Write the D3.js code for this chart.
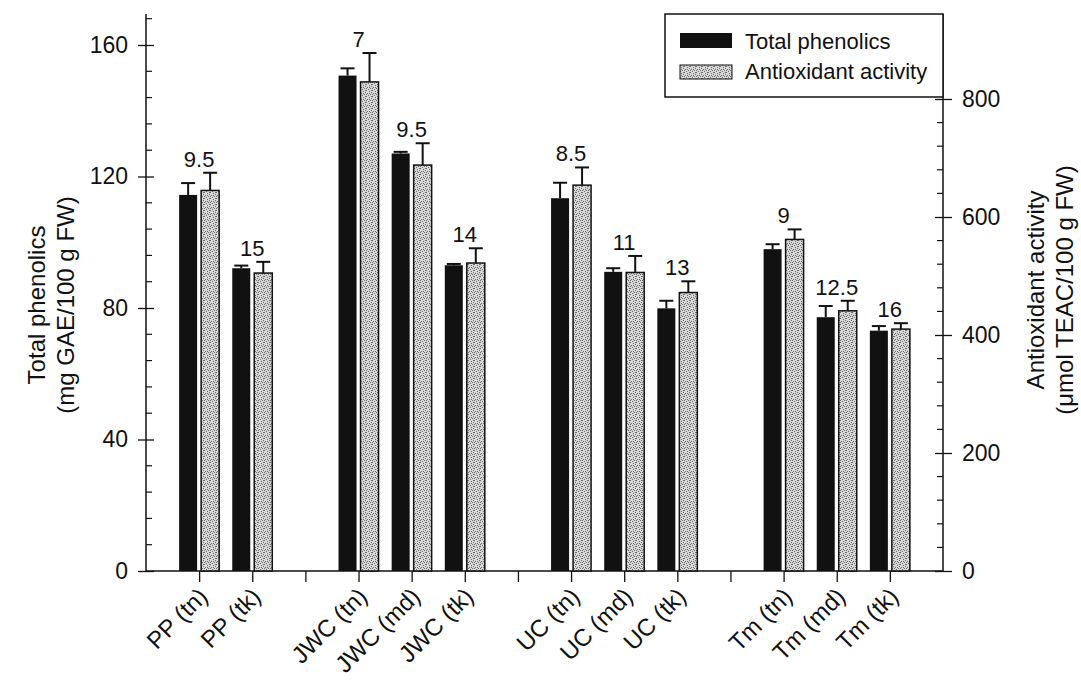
<!DOCTYPE html>
<html>
<head>
<meta charset="utf-8">
<script src="https://cdn.jsdelivr.net/npm/d3@7"></script>
<style>
  body { margin: 0; background: #fff; }
  svg text { font-family: "Liberation Sans", Arial, Helvetica, sans-serif; fill: #111; }
</style>
</head>
<body>
<div id="chart"></div>
<script>
/*
 * Total phenolics vs antioxidant activity, grouped bars with two y axes
 */

// categories and the group each one belongs to (groups are split by an empty slot)
var categories = ["PP (tn)", "PP (tk)", "JWC (tn)", "JWC (md)", "JWC (tk)",
                  "UC (tn)", "UC (md)", "UC (tk)", "Tm (tn)", "Tm (md)", "Tm (tk)"];
var groups = ["PP", "PP", "JWC", "JWC", "JWC", "UC", "UC", "UC", "Tm", "Tm", "Tm"];

// mg GAE/100 g FW
var phenolics    = [114.4, 92.1, 150.7, 127.0, 93.0, 113.4, 91.0, 79.9, 97.9, 77.2, 73.1];
var phenolicsErr = [3.6, 0.8, 2.2, 0.5, 0.4, 4.7, 1.1, 2.3, 1.5, 3.4, 1.4];

// umol TEAC/100 g FW
var antioxidant    = [645, 505, 829, 688, 522, 654, 506, 472, 562, 441, 410];
var antioxidantErr = [30, 19, 49, 37, 25, 30, 28, 19, 17, 17, 10];

// numbers printed above each pair
var ratios = ["9.5", "15", "7", "9.5", "14", "8.5", "11", "13", "9", "12.5", "16"];

var leftTicks = [0, 40, 80, 120, 160];
var rightTicks = [0, 200, 400, 600, 800];

var width = 1081, height = 681;
var plot = { left: 146, right: 943, top: 14, bottom: 571 };

var svg = d3.select("#chart").append("svg")
  .attr("width", width).attr("height", height);

// stipple texture for the antioxidant bars
var pat = svg.append("defs").append("pattern")
  .attr("id", "stipple").attr("patternUnits", "userSpaceOnUse")
  .attr("width", 6).attr("height", 6);
pat.append("rect").attr("width", 6).attr("height", 6).attr("fill", "#d8d8d8");
[[0,0],[3,1],[1,3],[4,4],[2,5],[5,2],[0,4],[3,3],[5,0]].forEach(function(p){
  pat.append("rect").attr("x", p[0]).attr("y", p[1]).attr("width", 1).attr("height", 1).attr("fill", "#6a6a6a");
});

// x slots: padding, categories with one empty slot between groups, padding
var slots = ["_start"];
categories.forEach(function(c, i){
  if (i > 0 && groups[i] != groups[i-1]) slots.push("_gap" + i);
  slots.push(c);
});
slots.push("_end");

var x = d3.scalePoint().domain(slots).range([plot.left, plot.right]);
var yL = d3.scaleLinear().domain([0, 160]).range([plot.bottom, 45]);
var yR = d3.scaleLinear().domain([0, 800]).range([plot.bottom, 99]);

var ink = "#111";

// axis lines
svg.append("line").attr("x1", plot.left).attr("x2", plot.left)
  .attr("y1", plot.top).attr("y2", plot.bottom).attr("stroke", ink).attr("stroke-width", 1.5);
svg.append("line").attr("x1", plot.right).attr("x2", plot.right)
  .attr("y1", plot.top).attr("y2", plot.bottom).attr("stroke", ink).attr("stroke-width", 1.5);
svg.append("line").attr("x1", plot.left).attr("x2", plot.right)
  .attr("y1", plot.bottom).attr("y2", plot.bottom).attr("stroke", ink).attr("stroke-width", 1.5);

// left axis
var gL = svg.append("g").attr("transform", "translate(" + plot.left + ",0)")
  .call(d3.axisLeft(yL).tickValues(leftTicks).tickSize(8).tickPadding(10));
gL.select(".domain").remove();
gL.selectAll(".tick line").attr("x1", 8).attr("stroke", ink).attr("stroke-width", 1.3);
gL.selectAll(".tick text").style("font-size", "23px").attr("fill", ink);

d3.range(0, 170, 8).filter(function(v){ return v % 40 != 0; }).forEach(function(v){
  svg.append("line").attr("x1", plot.left).attr("x2", plot.left + 6)
    .attr("y1", yL(v)).attr("y2", yL(v)).attr("stroke", ink).attr("stroke-width", 1.2);
});

// right axis
var gR = svg.append("g").attr("transform", "translate(" + plot.right + ",0)")
  .call(d3.axisRight(yR).tickValues(rightTicks).tickSize(9).tickPadding(10));
gR.select(".domain").remove();
gR.selectAll(".tick line").attr("x1", -8).attr("stroke", ink).attr("stroke-width", 1.3);
gR.selectAll(".tick text").style("font-size", "23px").attr("fill", ink);

d3.range(0, 940, 40).filter(function(v){ return v % 200 != 0; }).forEach(function(v){
  svg.append("line").attr("x1", plot.right - 6).attr("x2", plot.right)
    .attr("y1", yR(v)).attr("y2", yR(v)).attr("stroke", ink).attr("stroke-width", 1.2);
});

// bottom ticks at every slot, labels only for categories
var gX = svg.append("g").attr("transform", "translate(0," + plot.bottom + ")")
  .call(d3.axisBottom(x).tickValues(slots.slice(1, -1)).tickSize(11).tickFormat(""));
gX.select(".domain").remove();
gX.selectAll(".tick line").attr("stroke", ink).attr("stroke-width", 1.3);

svg.selectAll(".xlab").data(categories).enter().append("text")
  .attr("class", "xlab")
  .attr("text-anchor", "end")
  .attr("transform", function(d){ return "translate(" + (x(d) + 10) + ",598) rotate(-45)"; })
  .style("font-size", "24px")
  .text(function(d){ return d; });

// bars
var barW = 18, gap = 2, capW = 14;

categories.forEach(function(c, i){
  var cx = x(c);

  // total phenolics, black
  var bx = cx - gap - barW;
  svg.append("rect").attr("x", bx).attr("y", yL(phenolics[i]))
    .attr("width", barW).attr("height", plot.bottom - yL(phenolics[i]))
    .attr("fill", ink);
  var capL = yL(phenolics[i] + phenolicsErr[i]);
  svg.append("line").attr("x1", bx + barW/2).attr("x2", bx + barW/2)
    .attr("y1", yL(phenolics[i])).attr("y2", capL).attr("stroke", ink).attr("stroke-width", 2);
  svg.append("line").attr("x1", bx + barW/2 - capW/2).attr("x2", bx + barW/2 + capW/2)
    .attr("y1", capL).attr("y2", capL).attr("stroke", ink).attr("stroke-width", 2);

  // antioxidant activity, stippled
  var sx = cx + gap;
  svg.append("rect").attr("x", sx).attr("y", yR(antioxidant[i]))
    .attr("width", barW).attr("height", plot.bottom - yR(antioxidant[i]))
    .attr("fill", "url(#stipple)").attr("stroke", ink).attr("stroke-width", 1.5);
  var capR = yR(antioxidant[i] + antioxidantErr[i]);
  svg.append("line").attr("x1", sx + barW/2).attr("x2", sx + barW/2)
    .attr("y1", yR(antioxidant[i])).attr("y2", capR).attr("stroke", ink).attr("stroke-width", 2);
  svg.append("line").attr("x1", sx + barW/2 - capW/2).attr("x2", sx + barW/2 + capW/2)
    .attr("y1", capR).attr("y2", capR).attr("stroke", ink).attr("stroke-width", 2);

  // ratio label above the pair
  svg.append("text").attr("x", cx).attr("y", Math.min(capL, capR) - 6)
    .attr("text-anchor", "middle").style("font-size", "22px")
    .text(ratios[i]);
});

// legend
var lg = svg.append("g");
lg.append("rect").attr("x", 665).attr("y", plot.top).attr("width", plot.right - 665).attr("height", 83)
  .attr("fill", "#fff").attr("stroke", ink).attr("stroke-width", 1.5);
lg.append("rect").attr("x", 680).attr("y", 33).attr("width", 52).attr("height", 15).attr("fill", ink);
lg.append("rect").attr("x", 680).attr("y", 65).attr("width", 52).attr("height", 14)
  .attr("fill", "url(#stipple)").attr("stroke", ink).attr("stroke-width", 1);
lg.append("text").attr("x", 745).attr("y", 49).style("font-size", "22px").text("Total phenolics");
lg.append("text").attr("x", 745).attr("y", 79).style("font-size", "22px").text("Antioxidant activity");

// axis titles
var tl = svg.append("text").attr("text-anchor", "middle")
  .attr("transform", "translate(45,305) rotate(-90)").style("font-size", "24px");
tl.append("tspan").attr("x", 0).attr("dy", 0).text("Total phenolics");
tl.append("tspan").attr("x", 0).attr("dy", 29).text("(mg GAE/100 g FW)");

var tr = svg.append("text").attr("text-anchor", "middle")
  .attr("transform", "translate(1044,290) rotate(-90)").style("font-size", "24px");
tr.append("tspan").attr("x", 0).attr("dy", 0).text("Antioxidant activity");
tr.append("tspan").attr("x", 0).attr("dy", 29).text("(\u03bcmol TEAC/100 g FW)");
</script>
</body>
</html>
